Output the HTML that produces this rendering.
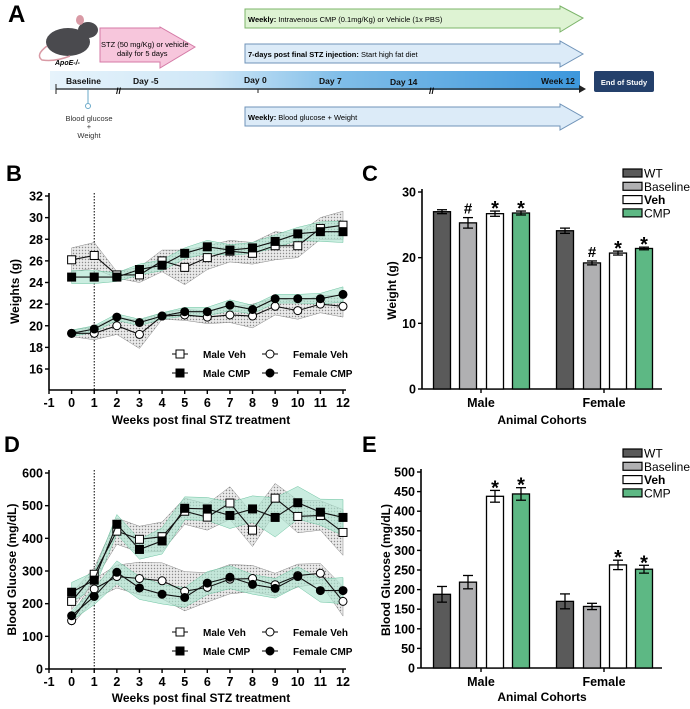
<!DOCTYPE html>
<html><head><meta charset="utf-8"><style>
body{margin:0;background:#fff;width:690px;height:709px;overflow:hidden;font-family:"Liberation Sans",Arial,sans-serif}
svg{position:absolute;left:0;top:0}
</style></head><body>
<svg id="fig" width="690" height="709" viewBox="0 0 690 709" xmlns="http://www.w3.org/2000/svg" font-family="Liberation Sans, Arial, sans-serif">
<defs>
<linearGradient id="tl" x1="0" x2="1"><stop offset="0" stop-color="#e6f3fb"/><stop offset="0.3" stop-color="#cfe7f7"/><stop offset="0.55" stop-color="#7fbde8"/><stop offset="1" stop-color="#3d97dc"/></linearGradient>
<pattern id="dots" width="3" height="3" patternUnits="userSpaceOnUse"><rect width="3" height="3" fill="#e6e6e6"/><circle cx="1.5" cy="1.5" r="0.7" fill="#777"/></pattern>
</defs>
<g>
<text x="8" y="22" font-size="24" font-weight="bold">A</text>
<g>
<ellipse cx="68" cy="42" rx="22" ry="14" fill="#4a4a4e"/>
<ellipse cx="88" cy="30" rx="10" ry="8" fill="#4a4a4e"/>
<ellipse cx="80" cy="20" rx="4" ry="5" fill="#d99aa5"/>
<path d="M47 46 Q35 55 42 60 Q55 62 70 56" fill="none" stroke="#d99aa5" stroke-width="1.5"/>
</g>
<text x="55" y="65" font-size="7" font-style="italic" font-weight="bold">ApoE-/-</text>
<path d="M100 28 H160 V27 L195 47 L160 68 V62 H100 Z" fill="#f7c6dc" stroke="#d47aa6"/>
<text x="101" y="47" font-size="7.5">STZ (50 mg/Kg) or vehicle</text>
<text x="117" y="56" font-size="7.5">daily for 5 days</text>
<path d="M245 9 H560 V6 L583 18 L560 32 V28 H245 Z" fill="#def3d3" stroke="#7cb46a"/>
<text x="248" y="22" font-size="7.5"><tspan font-weight="bold">Weekly:</tspan> Intravenous CMP (0.1mg/Kg) or Vehicle (1x PBS)</text>
<path d="M245 44 H560 V41 L583 54 L560 67 V63 H245 Z" fill="#dcebf8" stroke="#6f93b8"/>
<text x="248" y="57" font-size="7.5"><tspan font-weight="bold">7-days post final STZ injection:</tspan> Start high fat diet</text>
<path d="M245 107 H560 V104 L583 117 L560 130 V126 H245 Z" fill="#dcebf8" stroke="#6f93b8"/>
<text x="248" y="120" font-size="7.5"><tspan font-weight="bold">Weekly:</tspan> Blood glucose + Weight</text>
<rect x="50" y="71" width="530" height="19" fill="url(#tl)"/>
<line x1="56" y1="89" x2="580" y2="89" stroke="#222" stroke-width="1.2"/>
<path d="M579 85 L586 89 L579 93 Z" fill="#222"/>
<line x1="56" y1="84" x2="56" y2="94" stroke="#222"/>
<line x1="258" y1="89" x2="258" y2="93" stroke="#222"/>
<text x="116" y="94" font-size="9" font-weight="bold">//</text>
<text x="429" y="94" font-size="9" font-weight="bold">//</text>
<g font-size="8.5" font-weight="bold" fill="#111">
<text x="66" y="84">Baseline</text>
<text x="133" y="84">Day -5</text>
<text x="244" y="83">Day 0</text>
<text x="319" y="84">Day 7</text>
<text x="390" y="85">Day 14</text>
<text x="541" y="84">Week 12</text>
</g>
<rect x="594" y="71" width="60" height="21" rx="2" fill="#24406b"/>
<text x="624" y="85" font-size="7.5" font-weight="bold" fill="#fff" text-anchor="middle">End of Study</text>
<line x1="88" y1="90" x2="88" y2="103" stroke="#6aa9c9"/>
<circle cx="88" cy="106" r="2.5" fill="#fff" stroke="#6aa9c9"/>
<g font-size="7.5" text-anchor="middle" fill="#333">
<text x="89" y="121">Blood glucose</text>
<text x="89" y="129">+</text>
<text x="89" y="138">Weight</text>
</g>
</g>
<text x="6" y="181" font-size="22" font-weight="bold">B</text>
<text x="362" y="181" font-size="22" font-weight="bold">C</text>
<text x="4" y="452" font-size="22" font-weight="bold">D</text>
<text x="362" y="452" font-size="22" font-weight="bold">E</text>
<g id="chartB"></g>
<g id="chartD"></g>
<g id="chartC"></g>
<g id="chartE"></g>
</svg>
<script>
const weeks=[0,1,2,3,4,5,6,7,8,9,10,11,12];
const xTicks=[-1,0,1,2,3,4,5,6,7,8,9,10,11,12];
const wMaleVeh=[26.1,26.5,24.7,24.7,26.0,25.4,26.3,26.9,26.7,27.4,27.4,29.0,29.3];
const wMaleVehErr=[1.1,1.2,0.3,0.7,1.0,1.6,1.1,1.0,1.0,1.3,1.1,1.0,1.3];
const wMaleCmp=[24.5,24.5,24.5,25.2,25.6,26.7,27.3,27.0,27.2,27.8,28.5,28.7,28.7];
const wMaleCmpErr=[0.6,0.6,0.4,0.5,0.5,0.5,0.6,0.5,0.5,0.6,0.6,0.9,1.0];
const wFemVeh=[19.3,19.3,20.0,19.2,20.9,21.0,20.8,21.0,20.9,21.8,21.4,22.0,21.8];
const wFemVehErr=[0.3,0.6,0.8,1.3,0.3,0.5,0.6,0.7,1.1,0.8,0.8,0.8,1.0];
const wFemCmp=[19.3,19.7,20.8,20.3,20.9,21.3,21.3,21.9,21.5,22.5,22.5,22.5,22.9];
const wFemCmpErr=[0.3,0.3,0.3,0.3,0.3,0.4,0.4,0.5,0.4,0.4,0.4,0.5,0.7];
const wYTicks=[16,18,20,22,24,26,28,30,32];
const gMaleVeh=[207,290,422,397,405,483,465,508,425,523,467,470,418];
const gMaleVehErr=[25,20,40,40,45,40,40,50,50,45,50,45,70];
const gMaleCmp=[235,272,443,366,392,492,490,470,490,464,509,480,464];
const gMaleCmpErr=[30,25,30,30,40,35,35,40,40,60,50,40,55];
const gFemVeh=[148,245,283,277,270,238,250,275,277,258,286,293,207];
const gFemVehErr=[15,30,35,50,55,60,45,45,40,35,35,30,45];
const gFemCmp=[163,222,296,248,229,219,263,281,259,247,283,240,240];
const gFemCmpErr=[15,25,35,35,30,30,35,35,30,30,30,35,40];
const gYTicks=[0,100,200,300,400,500,600];
const barGroups=["Male","Female"];
const barSeries=["WT","Baseline","Veh","CMP"];
const cMale=[27.0,25.3,26.7,26.8];const cMaleErr=[0.3,0.8,0.4,0.3];
const cFemale=[24.1,19.2,20.7,21.4];const cFemaleErr=[0.4,0.3,0.3,0.2];
const cMarks=[["","#","*","*"],["","#","*","*"]];
const cYTicks=[0,10,20,30];
const eMale=[188,219,438,444];const eMaleErr=[20,17,15,16];
const eFemale=[170,157,263,252];const eFemaleErr=[19,8,12,10];
const eMarks=[["","","*","*"],["","","*","*"]];
const eYTicks=[0,50,100,150,200,250,300,350,400,450,500];

const NS="http://www.w3.org/2000/svg";
function mk(p,t,a,txt){const e=document.createElementNS(NS,t);for(const k in a)e.setAttribute(k,a[k]);if(txt!==undefined)e.textContent=txt;p.appendChild(e);return e;}

function lineChart(gid,o){
 const g=document.getElementById(gid);
 const X=v=>o.x0+(v+1)*(o.x1-o.x0)/13;
 const Y=v=>o.yb+(v-o.ymin)*(o.yt-o.yb)/(o.ymax-o.ymin);
 const bottom=o.axisY;
 let ax=mk(g,'line',{x1:o.x0,y1:o.top,x2:o.x0,y2:bottom,stroke:'#000','stroke-width':1.6});
 
 let ax2=mk(g,'line',{x1:o.x0,y1:bottom,x2:o.x1+3,y2:bottom,stroke:'#000','stroke-width':1.6});
 
 o.yTicks.forEach(t=>{mk(g,'line',{x1:o.x0-4,y1:Y(t),x2:o.x0,y2:Y(t),stroke:'#000','stroke-width':1.4});
  const tl=mk(g,'text',{x:o.x0-6,y:Y(t)+4.5,'font-size':12.5,'font-weight':'bold','text-anchor':'end'},t);
  });
 xTicks.forEach(t=>{mk(g,'line',{x1:X(t),y1:bottom,x2:X(t),y2:bottom+4,stroke:'#000','stroke-width':1.4});
  const tl=mk(g,'text',{x:X(t),y:bottom+17,'font-size':12.5,'font-weight':'bold','text-anchor':'middle'},t);
  });
 mk(g,'line',{x1:X(1),y1:o.top,x2:X(1),y2:bottom,stroke:'#000','stroke-dasharray':'1.5,1.5','stroke-width':1});
 const xt=mk(g,'text',{x:(o.x0+o.x1)/2+5,y:o.xTitleY,'font-size':12,'font-weight':'bold','text-anchor':'middle'},'Weeks post final STZ treatment');
 
 const yt=mk(g,'text',{x:0,y:0,'font-size':12,'font-weight':'bold','text-anchor':'middle',transform:`translate(${o.yTitleX},${(o.top+bottom)/2}) rotate(-90)`},o.yTitle);
 
 o.series.forEach(s=>{
  let up=weeks.map((w,i)=>X(w)+','+Y(s.v[i]+s.e[i])), dn=weeks.map((w,i)=>X(w)+','+Y(s.v[i]-s.e[i])).reverse();
  const b=mk(g,'polygon',{points:up.concat(dn).join(' '),fill:s.veh?'url(#dots)':'#aee3cf','fill-opacity':s.veh?0.85:0.65,stroke:s.veh?'#888':'#6cc3a0','stroke-width':0.5});
  });
 o.series.forEach(s=>{
  const l=mk(g,'polyline',{points:weeks.map((w,i)=>X(w)+','+Y(s.v[i])).join(' '),fill:'none',stroke:'#111','stroke-width':1.1});
  
  weeks.forEach((w,i)=>{let m;
   if(s.sq)m=mk(g,'rect',{x:X(w)-4,y:Y(s.v[i])-4,width:8,height:8,fill:s.veh?'#fff':'#000',stroke:'#000','stroke-width':1});
   else m=mk(g,'circle',{cx:X(w),cy:Y(s.v[i]),r:4,fill:s.veh?'#fff':'#000',stroke:'#000','stroke-width':1});
   });});
 const L=[["Male Veh",1,1,180,o.leg1],["Female Veh",0,1,270,o.leg1],["Male CMP",1,0,180,o.leg2],["Female CMP",0,0,270,o.leg2]];
 L.forEach(([t,sq,veh,lx,ly])=>{const lg=mk(g,'g',{});
  mk(lg,'line',{x1:lx-8,y1:ly,x2:lx+8,y2:ly,stroke:'#000'});
  if(sq)mk(lg,'rect',{x:lx-4,y:ly-4,width:8,height:8,fill:veh?'#fff':'#000',stroke:'#000'});else mk(lg,'circle',{cx:lx,cy:ly,r:4,fill:veh?'#fff':'#000',stroke:'#000'});
  mk(lg,'text',{x:lx+23,y:ly+4,'font-size':10,'font-weight':'bold'},t);});
}
lineChart('chartB',{x0:49,x1:343,top:193,axisY:390,yb:369,yt:196,ymin:16,ymax:32,yTicks:wYTicks,xTitleY:424,yTitleX:19,yTitle:'Weights (g)',leg1:354,leg2:373,
 series:[{name:'male-veh',v:wMaleVeh,e:wMaleVehErr,sq:1,veh:1},{name:'male-cmp',v:wMaleCmp,e:wMaleCmpErr,sq:1,veh:0},{name:'female-veh',v:wFemVeh,e:wFemVehErr,sq:0,veh:1},{name:'female-cmp',v:wFemCmp,e:wFemCmpErr,sq:0,veh:0}]});
lineChart('chartD',{x0:49,x1:343,top:470,axisY:669,yb:669,yt:473,ymin:0,ymax:600,yTicks:gYTicks,xTitleY:702,yTitleX:16,yTitle:'Blood Glucose (mg/dL)',leg1:632,leg2:651,
 series:[{name:'male-veh',v:gMaleVeh,e:gMaleVehErr,sq:1,veh:1},{name:'male-cmp',v:gMaleCmp,e:gMaleCmpErr,sq:1,veh:0},{name:'female-veh',v:gFemVeh,e:gFemVehErr,sq:0,veh:1},{name:'female-cmp',v:gFemCmp,e:gFemCmpErr,sq:0,veh:0}]});

function barChart(gid,o){
 const g=document.getElementById(gid);
 const Y=v=>o.yb+v*(o.yt-o.yb)/o.ymax;
 const cols=['#5a5a5a','#b0b0b2','#ffffff','#5db884'];
 mk(g,'line',{x1:o.x0,y1:o.yt-3,x2:o.x0,y2:o.yb,stroke:'#000','stroke-width':1.6});
 mk(g,'line',{x1:o.x0,y1:o.yb,x2:662,y2:o.yb,stroke:'#000','stroke-width':1.6});
 o.yTicks.forEach(t=>{mk(g,'line',{x1:o.x0-4,y1:Y(t),x2:o.x0,y2:Y(t),stroke:'#000','stroke-width':1.4});
  const tl=mk(g,'text',{x:o.x0-6,y:Y(t)+4.5,'font-size':12.5,'font-weight':'bold','text-anchor':'end'},t);
  });
 const centers=[[442,468,495,521],[565,592,618,644]];
 const gc=[481,604];
 [o.vals,o.vals2].forEach((vals,gi)=>{const errs=gi?o.err2:o.err;
  mk(g,'line',{x1:gc[gi],y1:o.yb,x2:gc[gi],y2:o.yb+4,stroke:'#000','stroke-width':1.4});
  const xl=mk(g,'text',{x:gc[gi],y:o.yb+18,'font-size':12.5,'font-weight':'bold','text-anchor':'middle'},barGroups[gi]);
  
  vals.forEach((v,i)=>{const cx=centers[gi][i];
   const r=mk(g,'rect',{x:cx-8.5,y:Y(v),width:17,height:o.yb-Y(v),fill:cols[i],stroke:'#000','stroke-width':1.3});
   
   const hi=Y(v+errs[i]),lo=Y(v-errs[i]);
   mk(g,'line',{x1:cx,y1:hi,x2:cx,y2:lo,stroke:'#000','stroke-width':1.3});
   mk(g,'line',{x1:cx-5,y1:hi,x2:cx+5,y2:hi,stroke:'#000','stroke-width':1.3});
   mk(g,'line',{x1:cx-5,y1:lo,x2:cx+5,y2:lo,stroke:'#000','stroke-width':1.3});
   const m=o.marks[gi][i];if(m){const mt=mk(g,'text',{x:cx,y:hi-(m=='*'?-4:4),'font-size':m=='*'?20:15,'font-weight':'bold','text-anchor':'middle'},m);
    }
  });});
 const xt=mk(g,'text',{x:542,y:o.xTitleY,'font-size':12,'font-weight':'bold','text-anchor':'middle'},'Animal Cohorts');
 
 const yt=mk(g,'text',{x:0,y:0,'font-size':12,'font-weight':'bold','text-anchor':'middle',transform:`translate(${o.yTitleX},${(o.yt+o.yb)/2}) rotate(-90)`},o.yTitle);
 
 barSeries.forEach((s,i)=>{const ly=o.legY+i*13.3;const lg=mk(g,'g',{});
  
  mk(lg,'rect',{x:623,y:ly-4,width:19,height:8,fill:cols[i],stroke:'#000','stroke-width':1.2});
  mk(lg,'text',{x:644,y:ly+4.5,'font-size':12,'font-weight':s=='Veh'?'bold':'normal'},s);});
}
barChart('chartC',{x0:422,yb:389,yt:192,ymax:30,yTicks:cYTicks,vals:cMale,err:cMaleErr,vals2:cFemale,err2:cFemaleErr,marks:cMarks,xTitleY:424,yTitleX:396,yTitle:'Weight (g)',legY:173});
barChart('chartE',{x0:421,yb:668,yt:472,ymax:500,yTicks:eYTicks,vals:eMale,err:eMaleErr,vals2:eFemale,err2:eFemaleErr,marks:eMarks,xTitleY:701,yTitleX:390,yTitle:'Blood Glucose (mg/dL)',legY:453});
</script>
</body></html>
